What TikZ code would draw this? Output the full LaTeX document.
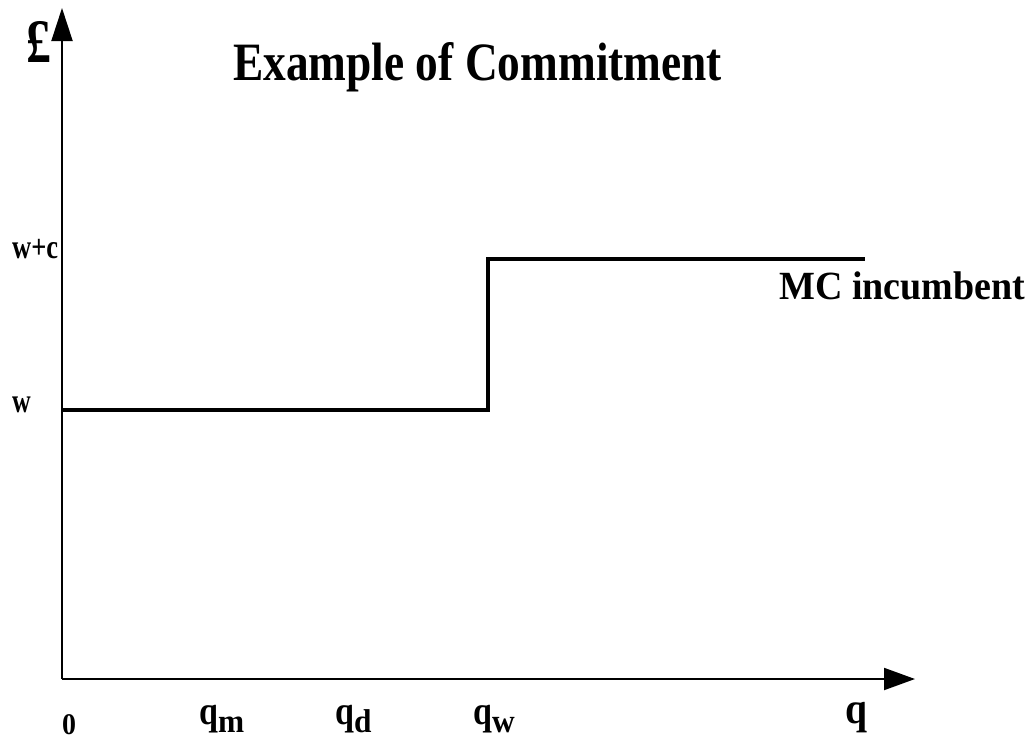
\documentclass[tikz,border=0pt]{standalone}
\usepackage{fontspec}
\usepackage{graphicx}
\setmainfont{Liberation Serif}
\usetikzlibrary{arrows.meta}

% bold label text: size, horizontal squeeze, text
\newcommand\lbltext[3]{{\fontsize{#1}{#1}\selectfont\bfseries\scalebox{#2}[1]{#3}}}
% quantity label q with a lowered subscript
\newcommand\qsub[1]{\lbltext{40}{0.85}{q}\raisebox{-8pt}{\lbltext{33}{0.95}{#1}}}

\begin{document}
\begin{tikzpicture}[x=1pt,y=-1pt,
  axis/.style={line width=2pt,-{Triangle[length=31pt,width=22pt]}},
  curve/.style={line width=4pt,line join=miter},
  lbl/.style={inner sep=0pt,anchor=base west}]
\useasboundingbox (0,0) rectangle (1034,740);

% axes
\coordinate (O) at (62,679);
\coordinate (ytop) at (62,8);
\coordinate (xend) at (915,679);
\draw[line width=2pt,-{Triangle[length=33pt,width=21pt]}] (O) -- (ytop);
\draw[axis] (O) -- (xend);

% marginal cost step
\coordinate (w0) at (62,410);
\coordinate (wq) at (488,410);
\coordinate (cq) at (488,259);
\coordinate (cend) at (865,259);
\draw[curve] (w0) -- (wq) -- (cq) -- (cend);

% labels
\node[lbl] (pound) at (26,62) {\lbltext{62}{0.8}{£}};
\node[lbl] (title) at (233,80) {\lbltext{54}{0.84}{Example of Commitment}};
\node[lbl] (wc) at (12,258) {\lbltext{34}{0.78}{w+c}};
\node[lbl] (w) at (12,412) {\lbltext{34}{0.76}{w}};
\node[lbl] (mc) at (779,299) {\lbltext{40}{0.95}{MC incumbent}};
\node[lbl] (zero) at (62,734) {\lbltext{30}{0.93}{0}};
\node[lbl] (qm) at (199,724) {\qsub{m}};
\node[lbl] (qd) at (335,724) {\qsub{d}};
\node[lbl] (qw) at (473,724) {\qsub{w}};
\node[lbl] (q) at (845,723) {\lbltext{44}{0.9}{q}};
\end{tikzpicture}
\end{document}
